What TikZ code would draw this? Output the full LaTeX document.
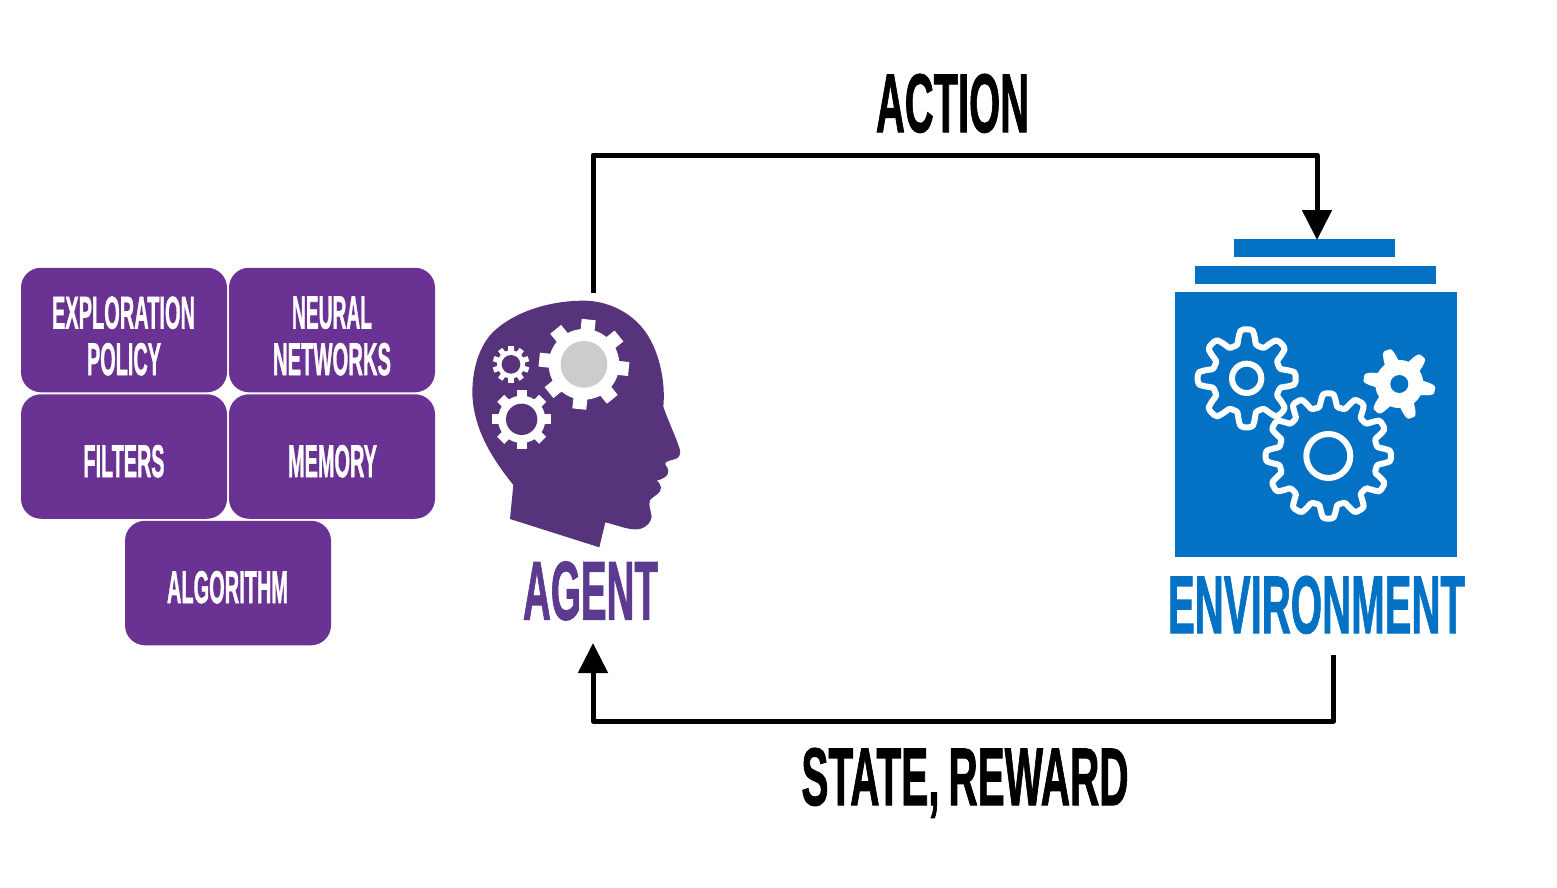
\documentclass[tikz,border=0pt]{standalone}
\usepackage{graphicx}
\usepackage{fontspec}
\usetikzlibrary{arrows.meta}
\newfontfamily\cond[BoldFeatures={FakeBold=1.5}]{Liberation Sans}
\definecolor{boxpurple}{HTML}{6A3293}
\definecolor{headpurple}{HTML}{57337B}
\definecolor{agentpurple}{HTML}{5C3A8F}
\definecolor{envblue}{HTML}{0472C4}
\definecolor{hubgrey}{HTML}{CCCCCC}
\newcommand{\fittext}[3]{\resizebox{#1pt}{#2pt}{\raisebox{0pt}[\height][0pt]{\cond\bfseries #3}}}
% cx cy body tip teeth halfwidth phase hole holecolor
\newcommand{\solidgear}[9]{%
  \fill[white] (#1,#2) circle[radius=#3];
  \foreach \k in {1,...,#5}{%
    \fill[white,shift={(#1,#2)},rotate=#7+\k*360/#5] (-#6,0) rectangle (#6,#4);
  }
  \fill[#9] (#1,#2) circle[radius=#8];
}
% cx cy mean amp teeth phase
\newcommand{\wavegear}[6]{%
  \draw[white,line width=6pt,line join=round,shift={(#1,#2)}]
    plot[smooth cycle,samples=#5*12,domain=0:{360-360/(#5*12)},variable=\t]
    (\t:{#3+#4*max(-1,min(1,1.7*cos(#5*(\t-#6))))});
}
\tikzset{
  tool/.style={fill=boxpurple,rounded corners=20pt,minimum width=206pt,minimum height=124.5pt,inner sep=0pt,text=white},
  label/.style={inner sep=0pt,outer sep=0pt},
  bar/.style={fill=envblue,inner sep=0pt,outer sep=0pt},
  link/.style={draw=black,line width=5pt,line join=round,-{Triangle[length=30pt,width=29pt]}}
}
\begin{document}
\begin{tikzpicture}[x=1pt,y=-1pt]
\useasboundingbox (0,0) rectangle (1557,887);
\fill[white] (0,0) rectangle (1557,887);
% tool boxes
\node[tool] (b1) at (124,330) {};
\node[tool] (b2) at (332,330) {};
\node[tool] (b3) at (124,456.5) {};
\node[tool] (b4) at (332,456.5) {};
\node[tool] (b5) at (228,583) {};
\node[label,text=white] (t1a) at (123.5,312.5) {\fittext{143}{32}{EXPLORATION}};
\node[label,text=white] (t1b) at (124,359) {\fittext{74}{32}{POLICY}};
\node[label,text=white] (t2a) at (332,312.5) {\fittext{80}{32}{NEURAL}};
\node[label,text=white] (t2b) at (332,359) {\fittext{118}{32}{NETWORKS}};
\node[label,text=white] (t3) at (124,461) {\fittext{81}{32}{FILTERS}};
\node[label,text=white] (t4) at (332.5,461) {\fittext{89}{32}{MEMORY}};
\node[label,text=white] (t5) at (227.5,587) {\fittext{121}{32}{ALGORITHM}};
% head
\begin{scope}[shift={(460,290)},x=0.3333pt,y=-0.3333pt]
\fill[headpurple] (160,585) -- (150,687) -- (418,772) -- (436,697)
  .. controls (470,705) and (505,720) .. (530,718)
  .. controls (555,718) and (575,695) .. (575,680)
  .. controls (572,660) and (565,645) .. (570,630)
  .. controls (580,618) and (605,610) .. (603,592)
  .. controls (602,582) and (595,575) .. (590,572)
  .. controls (605,568) and (627,560) .. (625,542)
  .. controls (624,530) and (612,525) .. (617,518)
  .. controls (630,505) and (665,515) .. (660,480)
  .. controls (650,445) and (625,395) .. (610,350)
  .. controls (618,270) and (595,160) .. (535,100)
  .. controls (490,55) and (430,32) .. (370,32)
  .. controls (270,32) and (160,65) .. (95,130)
  .. controls (55,175) and (37,240) .. (37,310)
  .. controls (40,420) and (100,510) .. (160,585) -- cycle;
\solidgear{372}{223}{106}{135}{8}{21}{-6}{70}{hubgrey}
\solidgear{153}{223}{42}{55}{10}{8}{0}{28}{headpurple}
\solidgear{185}{388}{71}{89}{8}{15}{0}{47}{headpurple}
\end{scope}
\node[label,text=agentpurple] (agent) at (590.5,590.5) {\fittext{135}{58}{AGENT}};
% environment
\node[bar,minimum width=161pt,minimum height=18pt] (bar1) at (1314.5,248) {};
\node[bar,minimum width=241pt,minimum height=18pt] (bar2) at (1315.5,275) {};
\node[bar,minimum width=282pt,minimum height=265pt] (env) at (1316,424.5) {};
\begin{scope}[shift={(1165,230)},x=0.3333pt,y=-0.3333pt]
\wavegear{245}{445}{125}{22}{8}{0}
\draw[white,line width=6pt] (245,445) circle[radius=44];
\wavegear{490}{678}{168}{20}{12}{0}
\draw[white,line width=6pt] (490,678) circle[radius=66];
\fill[white,shift={(703,462)}] plot[smooth cycle,samples=144,domain=0:357.5,variable=\t]
  (\t:{90+18*max(-1,min(1,2*cos(6*(\t-10))-0.6))});
\fill[envblue] (703,462) circle[radius=27];
\end{scope}
\node[label,text=envblue] (envlabel) at (1316.5,604.5) {\fittext{297}{57}{ENVIRONMENT}};
% connector labels
\node[label,text=black] (action) at (952.5,103) {\fittext{153}{58}{ACTION}};
\node[label,text=black] (state) at (965,776.5) {\fittext{327}{57}{STATE,\hspace{0.22em}REWARD}};
% connector ends
\coordinate (agenttop) at (593,293);
\coordinate (envtop) at (1317,240);
\coordinate (envbottom) at (1333.5,655);
\coordinate (agentbottom) at (593,643);
\draw[link] (agenttop) |- (1317,155) -- (envtop);
\draw[link] (envbottom) |- (593,721) -- (agentbottom);
\end{tikzpicture}
\end{document}
